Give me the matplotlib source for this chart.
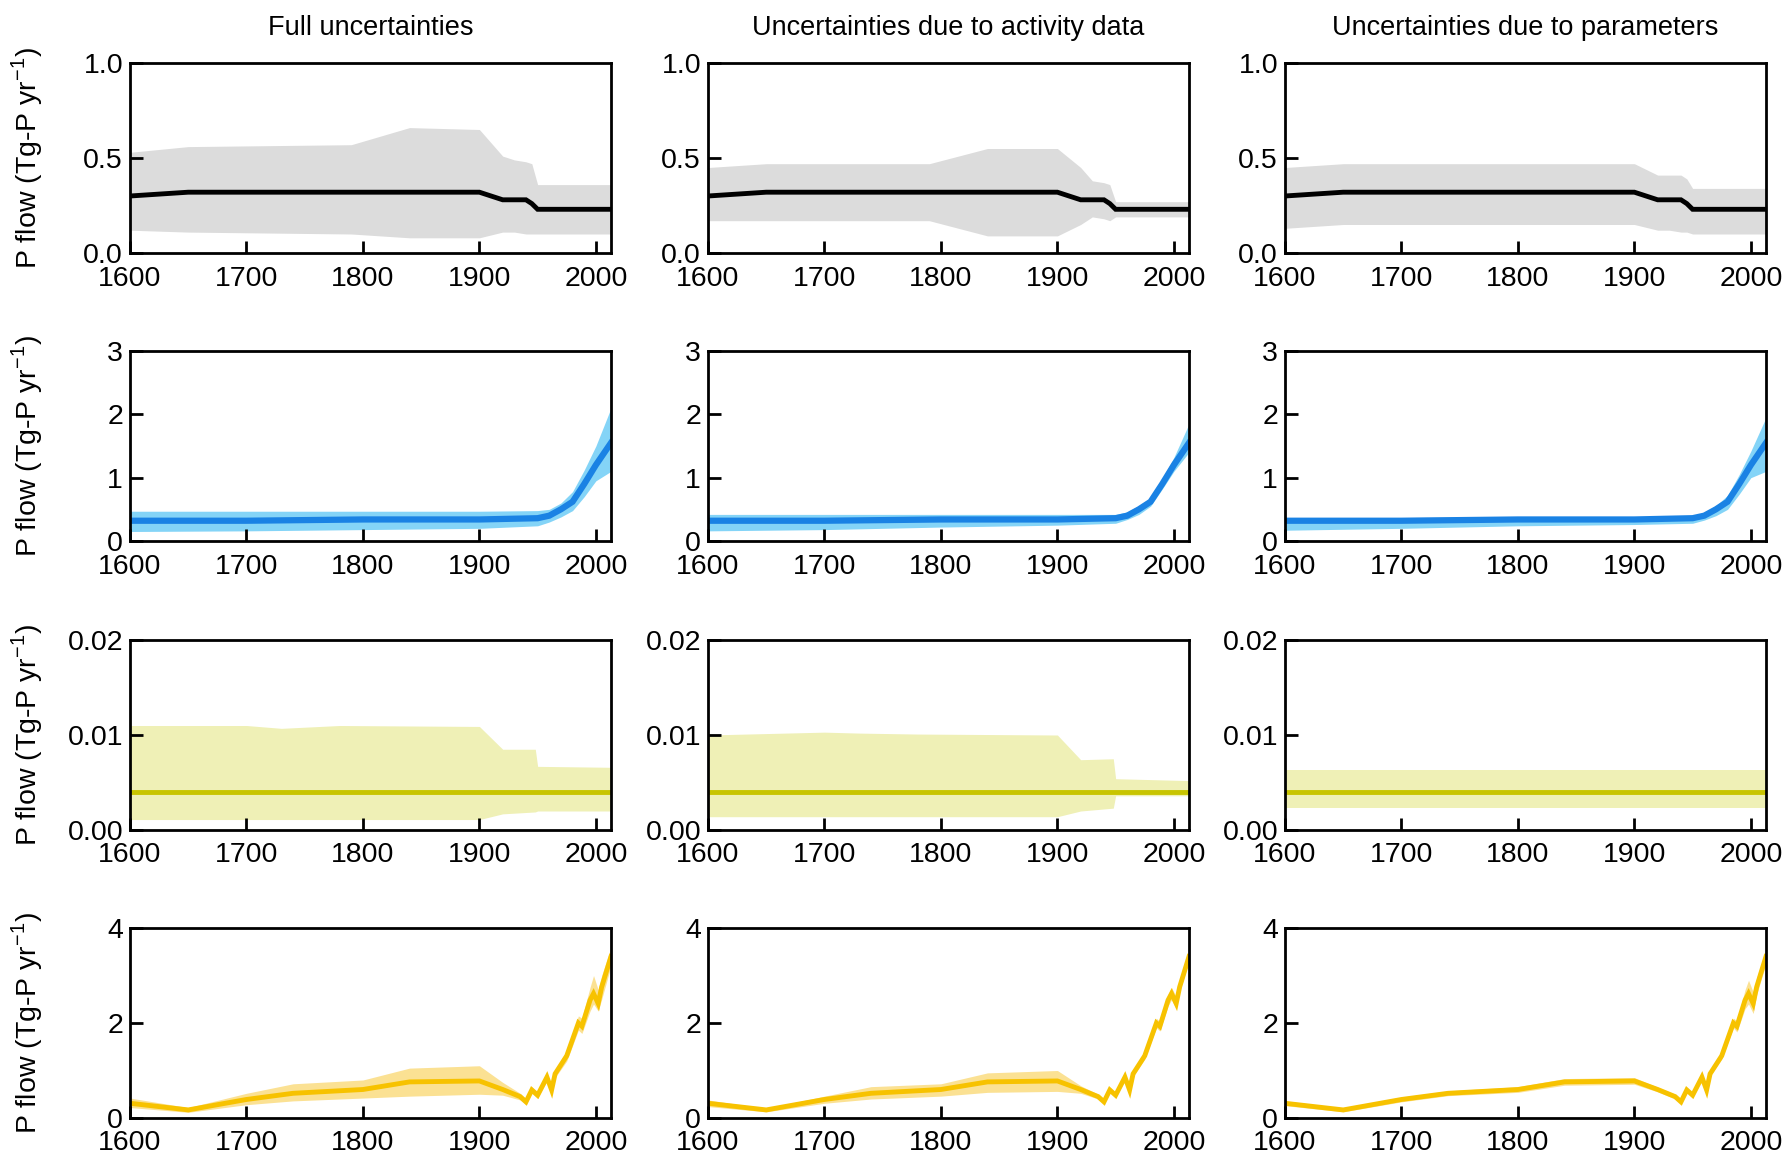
import matplotlib
matplotlib.use("Agg")
import matplotlib.pyplot as plt
from matplotlib.ticker import FixedLocator, FormatStrFormatter

plt.rcParams['font.family'] = ['Liberation Sans', 'DejaVu Sans']
plt.rcParams['mathtext.fontset'] = 'custom'
plt.rcParams['mathtext.rm'] = 'Liberation Sans'

col_titles = ["Full uncertainties", "Uncertainties due to activity data",
              "Uncertainties due to parameters"]
ylabel = "P flow (Tg-P yr$^{\\mathregular{-1}}$)"

# ---- Row 1 (black) ----
r1_years = [1600, 1650, 1790, 1840, 1900, 1920, 1930, 1940, 1945, 1950, 2013]
r1_mean = [0.30, 0.32, 0.32, 0.32, 0.32, 0.28, 0.28, 0.28, 0.26, 0.23, 0.23]
r1_full_up = [0.53, 0.56, 0.57, 0.66, 0.65, 0.51, 0.49, 0.48, 0.47, 0.36, 0.36]
r1_full_lo = [0.12, 0.11, 0.10, 0.08, 0.08, 0.11, 0.11, 0.10, 0.10, 0.10, 0.10]
r1_act_up = [0.45, 0.47, 0.47, 0.55, 0.55, 0.45, 0.38, 0.37, 0.36, 0.27, 0.27]
r1_act_lo = [0.17, 0.17, 0.17, 0.09, 0.09, 0.15, 0.19, 0.18, 0.17, 0.19, 0.19]
r1_par_up = [0.45, 0.47, 0.47, 0.47, 0.47, 0.41, 0.41, 0.41, 0.39, 0.34, 0.34]
r1_par_lo = [0.13, 0.15, 0.15, 0.15, 0.15, 0.12, 0.12, 0.11, 0.11, 0.10, 0.10]

# ---- Row 2 (blue) ----
r2_years = [1600, 1700, 1800, 1900, 1950, 1960, 1970, 1980, 1990, 2000, 2013]
r2_mean = [0.32, 0.32, 0.34, 0.34, 0.36, 0.40, 0.50, 0.62, 0.90, 1.20, 1.55]
r2_full_up = [0.47, 0.47, 0.47, 0.47, 0.48, 0.50, 0.60, 0.78, 1.12, 1.50, 2.10]
r2_full_lo = [0.15, 0.16, 0.18, 0.20, 0.24, 0.30, 0.38, 0.48, 0.70, 0.95, 1.10]
r2_act_up = [0.42, 0.42, 0.42, 0.42, 0.42, 0.46, 0.56, 0.68, 0.98, 1.32, 1.85]
r2_act_lo = [0.16, 0.18, 0.22, 0.25, 0.28, 0.34, 0.42, 0.55, 0.82, 1.10, 1.40]
r2_par_up = [0.37, 0.37, 0.38, 0.38, 0.40, 0.45, 0.56, 0.72, 1.05, 1.42, 1.95]
r2_par_lo = [0.17, 0.20, 0.24, 0.26, 0.28, 0.33, 0.40, 0.50, 0.74, 1.00, 1.10]

# ---- Row 3 (olive) ----
r3_years = [1600, 1700, 1730, 1780, 1900, 1920, 1948, 1950, 2013]
r3_mean = [0.004, 0.004, 0.004, 0.004, 0.004, 0.004, 0.004, 0.004, 0.004]
r3_full_up = [0.0110, 0.0110, 0.0107, 0.0110, 0.0109, 0.0085, 0.0085, 0.0067, 0.0066]
r3_full_lo = [0.0011, 0.0011, 0.0011, 0.0011, 0.0011, 0.0017, 0.0019, 0.0020, 0.0020]
r3_act_up = [0.0100, 0.0103, 0.0102, 0.0101, 0.0100, 0.0074, 0.0075, 0.0054, 0.0052]
r3_act_lo = [0.0014, 0.0014, 0.0014, 0.0014, 0.0014, 0.0020, 0.0023, 0.0036, 0.0036]
r3_par_up = [0.0063, 0.0063, 0.0063, 0.0063, 0.0063, 0.0063, 0.0063, 0.0063, 0.0063]
r3_par_lo = [0.0023, 0.0023, 0.0023, 0.0023, 0.0023, 0.0023, 0.0023, 0.0023, 0.0023]

# ---- Row 4 (orange-yellow) ----
r4_years = [1600, 1650, 1700, 1740, 1800, 1840, 1900, 1920, 1935, 1940, 1945, 1950,
            1958, 1962, 1965, 1975, 1985, 1988, 1995, 1998, 2002, 2005, 2013]
r4_mean = [0.31, 0.17, 0.39, 0.52, 0.60, 0.76, 0.78, 0.60, 0.45, 0.34, 0.59, 0.48,
           0.86, 0.59, 0.93, 1.31, 2.00, 1.93, 2.48, 2.62, 2.41, 2.76, 3.40]
r4_full_up = [0.42, 0.22, 0.52, 0.72, 0.80, 1.05, 1.10, 0.75, 0.52, 0.40, 0.66, 0.55,
              0.94, 0.67, 1.01, 1.42, 2.15, 2.10, 2.75, 3.00, 2.70, 3.00, 3.60]
r4_full_lo = [0.22, 0.12, 0.28, 0.36, 0.42, 0.46, 0.50, 0.48, 0.38, 0.28, 0.52, 0.41,
              0.78, 0.51, 0.85, 1.20, 1.85, 1.78, 2.25, 2.40, 2.25, 2.50, 3.20]
r4_act_up = [0.38, 0.20, 0.46, 0.66, 0.72, 0.95, 1.00, 0.68, 0.50, 0.38, 0.64, 0.53,
             0.92, 0.65, 0.99, 1.38, 2.10, 2.03, 2.60, 2.75, 2.55, 2.85, 3.50]
r4_act_lo = [0.24, 0.13, 0.31, 0.40, 0.46, 0.54, 0.56, 0.52, 0.40, 0.30, 0.54, 0.43,
             0.80, 0.53, 0.87, 1.24, 1.90, 1.83, 2.36, 2.49, 2.30, 2.67, 3.30]
r4_par_up = [0.36, 0.21, 0.44, 0.57, 0.66, 0.83, 0.85, 0.65, 0.50, 0.39, 0.64, 0.53,
             0.91, 0.64, 0.98, 1.38, 2.10, 2.05, 2.70, 2.90, 2.65, 2.95, 3.55]
r4_par_lo = [0.26, 0.13, 0.34, 0.47, 0.54, 0.69, 0.71, 0.55, 0.40, 0.29, 0.54, 0.43,
             0.81, 0.54, 0.88, 1.24, 1.90, 1.81, 2.30, 2.40, 2.20, 2.60, 3.25]

x_ticks = [1600, 1700, 1800, 1900, 2000]
rows = [
    dict(years=r1_years, mean=r1_mean,
         bands=[(r1_full_lo, r1_full_up), (r1_act_lo, r1_act_up), (r1_par_lo, r1_par_up)],
         band_color="#dcdcdc", line_color="#000000", lw=3.5,
         yticks=[0.0, 0.5, 1.0], fmt="%.1f", ylim=(0, 1.0)),
    dict(years=r2_years, mean=r2_mean,
         bands=[(r2_full_lo, r2_full_up), (r2_act_lo, r2_act_up), (r2_par_lo, r2_par_up)],
         band_color="#84d4f7", line_color="#1a82e4", lw=4.5,
         yticks=[0, 1, 2, 3], fmt="%d", ylim=(0, 3)),
    dict(years=r3_years, mean=r3_mean,
         bands=[(r3_full_lo, r3_full_up), (r3_act_lo, r3_act_up), (r3_par_lo, r3_par_up)],
         band_color="#eff0b6", line_color="#c8c400", lw=3.5,
         yticks=[0.0, 0.01, 0.02], fmt="%.2f", ylim=(0, 0.02)),
    dict(years=r4_years, mean=r4_mean,
         bands=[(r4_full_lo, r4_full_up), (r4_act_lo, r4_act_up), (r4_par_lo, r4_par_up)],
         band_color="#fbe193", line_color="#f7c200", lw=3.5,
         yticks=[0, 2, 4], fmt="%d", ylim=(0, 4)),
]

W, H = 1785, 1157
fig = plt.figure(figsize=(W / 100, H / 100), dpi=100)

col_left = [130, 708, 1285]
ax_w = 481
row_top = [63, 351, 640, 928]
ax_h = 190

for r, row in enumerate(rows):
    for c in range(3):
        ax = fig.add_axes([col_left[c] / W, 1 - (row_top[r] + ax_h) / H, ax_w / W, ax_h / H])
        lo, up = row["bands"][c]
        ax.fill_between(row["years"], lo, up, color=row["band_color"], lw=0)
        ax.plot(row["years"], row["mean"], color=row["line_color"], lw=row["lw"],
                solid_joinstyle="miter")
        ax.set_xlim(1600, 2013)
        ax.set_ylim(*row["ylim"])
        ax.xaxis.set_major_locator(FixedLocator(x_ticks))
        ax.yaxis.set_major_locator(FixedLocator(row["yticks"]))
        ax.yaxis.set_major_formatter(FormatStrFormatter(row["fmt"]))
        ax.tick_params(direction="in", length=9, width=2, labelsize=20.5,
                       top=False, right=False)
        ax.tick_params(axis="x", pad=9)
        ax.tick_params(axis="y", pad=5)
        for s in ax.spines.values():
            s.set_linewidth(2)
        if c == 0:
            cy = 1 - (row_top[r] + ax_h / 2) / H
            fig.text(27 / W, cy, ylabel, rotation=90, ha="center", va="center",
                     fontsize=20.5)
        if r == 0:
            ax.set_title(col_titles[c], fontsize=19.5, pad=20)

fig.savefig("out.png", dpi=100)
